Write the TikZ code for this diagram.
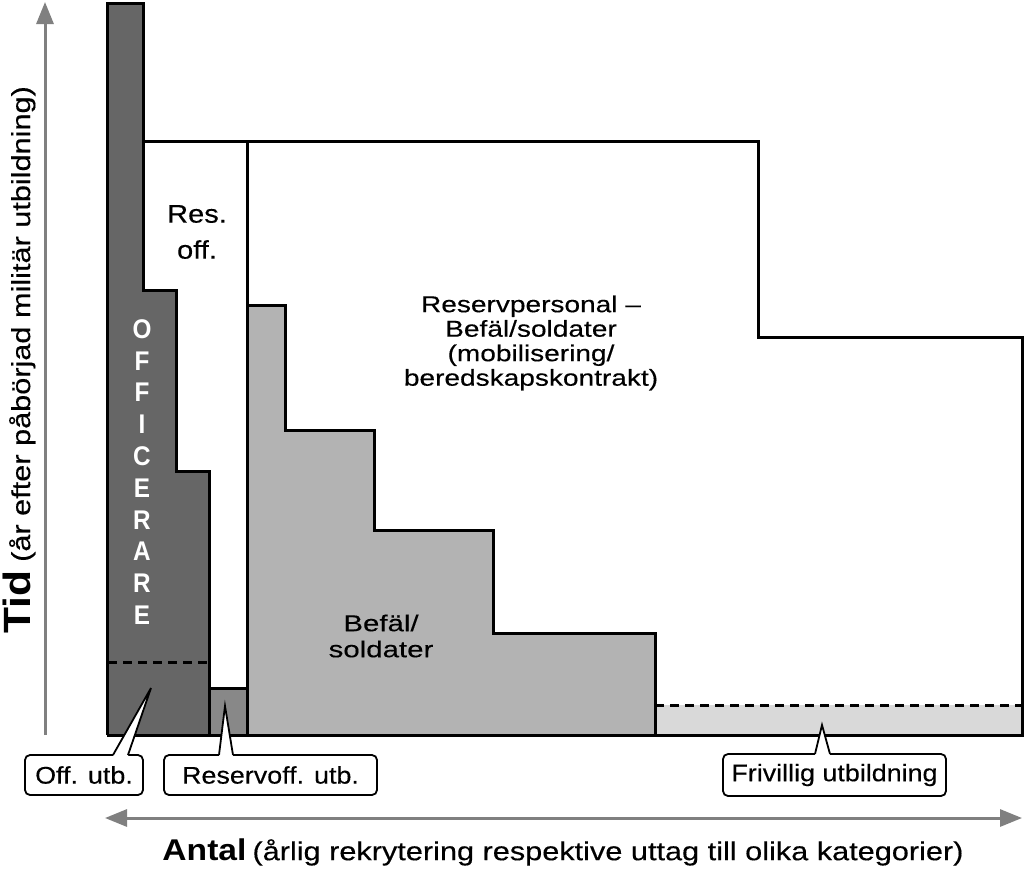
\documentclass[tikz,border=0pt]{standalone}
\usepackage{fontspec}
\setmainfont{Liberation Sans}
\newfontfamily\fmain{Liberation Sans}[FakeStretch=1.22,FakeBold=0.3]
\newfontfamily\fbef{Liberation Sans}[FakeStretch=1.28,FakeBold=0.3]
\newfontfamily\fres{Liberation Sans}[FakeStretch=1.14,FakeBold=0.3]
\newfontfamily\fcall{Liberation Sans}[FakeStretch=1.12,FakeBold=0.3]
\newfontfamily\foff{Liberation Sans Bold}[FakeStretch=0.9]
\newfontfamily\faxis{Liberation Sans}[FakeStretch=1.18,FakeBold=0.3]
\newfontfamily\faxisb{Liberation Sans Bold}[FakeStretch=1.12]
\usetikzlibrary{arrows.meta,calc}
\definecolor{cdark}{RGB}{102,102,102}
\definecolor{cmid}{RGB}{136,136,136}
\definecolor{clight}{RGB}{179,179,179}
\definecolor{cvlight}{RGB}{217,217,217}
\definecolor{caxis}{RGB}{128,128,128}
\tikzset{
  outline/.style={draw=black, line width=3pt, line join=miter},
  dashline/.style={draw=black, line width=3pt, dash pattern=on 9pt off 6pt},
  axisline/.style={draw=caxis, line width=3pt},
  callbox/.style={draw=black, fill=white, line width=1.8pt, rounded corners=5pt, inner sep=0pt,
     font=\fcall\fontsize{24}{28}\selectfont},
  callptr/.style={draw=black, line width=1.8pt, line join=miter},
}
\begin{document}
\begin{tikzpicture}[x=1pt,y=-1pt]
\path[use as bounding box, fill=white] (0,0) rectangle (1024,870);

% fills
\fill[cdark] (107,3) -- (143,3) -- (143,290) -- (176,290) -- (176,471) -- (209,471) -- (209,735) -- (107,735) -- cycle;
\fill[cmid] (209,688) rectangle (247,735);
\fill[clight] (247,305) -- (285,305) -- (285,430) -- (374,430) -- (374,530) -- (493,530) -- (493,633) -- (655,633) -- (655,735) -- (247,735) -- cycle;
\fill[cvlight] (655,705) rectangle (1022,735);

% dashed lines
\draw[dashline] (108,662) -- (209,662);
\draw[dashline] (655,705) -- (1022,705);

% outlines
\draw[outline] (143,141) -- (758,141) -- (758,337) -- (1022,337) -- (1022,735) -- (107,735);
\draw[outline] (247,141) -- (247,735);
\draw[outline] (107,735) -- (107,3) -- (143,3) -- (143,290) -- (176,290) -- (176,471) -- (209,471) -- (209,735);
\draw[outline] (209,688) -- (247,688);
\draw[outline] (247,305) -- (285,305) -- (285,430) -- (374,430) -- (374,530) -- (493,530) -- (493,633) -- (655,633) -- (655,735);

% texts in regions
\node[align=center, inner sep=0pt, font=\fmain\fontsize{23}{24.5}\selectfont] (rp) at (531,343)
  {Reservpersonal –\\Befäl/soldater\\(mobilisering/\\beredskapskontrakt)};
\node[align=center, inner sep=0pt, font=\fres\fontsize{25.5}{36}\selectfont] (ro) at (197,232) {Res.\\off.};
\node[align=center, inner sep=0pt, font=\fbef\fontsize{23}{26}\selectfont] (bs) at (381,636) {Befäl/\\soldater};
\node[align=center, inner sep=0pt, text=white, font=\foff\fontsize{27}{31.8}\selectfont] (off) at (142,472)
  {O\\F\\F\\I\\C\\E\\R\\A\\R\\E};

% callouts
\node[callbox, minimum width=118pt, minimum height=40pt] (c1) at (84,775) {Off. utb.};
\node[callbox, minimum width=213pt, minimum height=40pt] (c2) at (270.5,775) {Reservoff. utb.};
\node[callbox, minimum width=223pt, minimum height=42pt] (c3) at (834.5,775) {Frivillig utbildning};
\coordinate (t1) at (151,688);
\coordinate (t2) at (225,706);
\coordinate (t3) at (822,725);
\fill[white] ([xshift=29pt,yshift=-2pt]c1.north) -- (t1) -- ([xshift=44pt,yshift=-2pt]c1.north) -- cycle;
\draw[callptr] ([xshift=29pt,yshift=-0.9pt]c1.north) -- (t1) -- ([xshift=44pt,yshift=-0.9pt]c1.north);
\fill[white] ([xshift=-51.5pt,yshift=-2pt]c2.north) -- (t2) -- ([xshift=-37.5pt,yshift=-2pt]c2.north) -- cycle;
\draw[callptr] ([xshift=-51.5pt,yshift=-0.9pt]c2.north) -- (t2) -- ([xshift=-37.5pt,yshift=-0.9pt]c2.north);
\fill[white] ([xshift=-19.5pt,yshift=-2pt]c3.north) -- (t3) -- ([xshift=-4.5pt,yshift=-2pt]c3.north) -- cycle;
\draw[callptr] ([xshift=-19.5pt,yshift=-0.9pt]c3.north) -- (t3) -- ([xshift=-4.5pt,yshift=-0.9pt]c3.north);

% axes
\coordinate (y0) at (45,735);
\coordinate (y1) at (45,2);
\draw[axisline, -{Triangle[length=22pt,width=17pt]}] (y0) -- (y1);
\coordinate (x0) at (105,818);
\coordinate (x1) at (1022,818);
\draw[axisline, {Triangle[length=22pt,width=17pt]}-{Triangle[length=22pt,width=17pt]}] (x0) -- (x1);

\node[rotate=90, inner sep=0pt] (ylab) at (19,360)
  {{\faxisb\fontsize{38}{40}\selectfont Tid}\hspace{9pt}{\faxis\fontsize{26}{30}\selectfont (år efter påbörjad militär utbildning)}};
\node[inner sep=0pt] (xlab) at (563,852)
  {{\faxisb\fontsize{30}{34}\selectfont Antal}\hspace{6pt}{\faxis\fontsize{26}{30}\selectfont (årlig rekrytering respektive uttag till olika kategorier)}};
\end{tikzpicture}
\end{document}
